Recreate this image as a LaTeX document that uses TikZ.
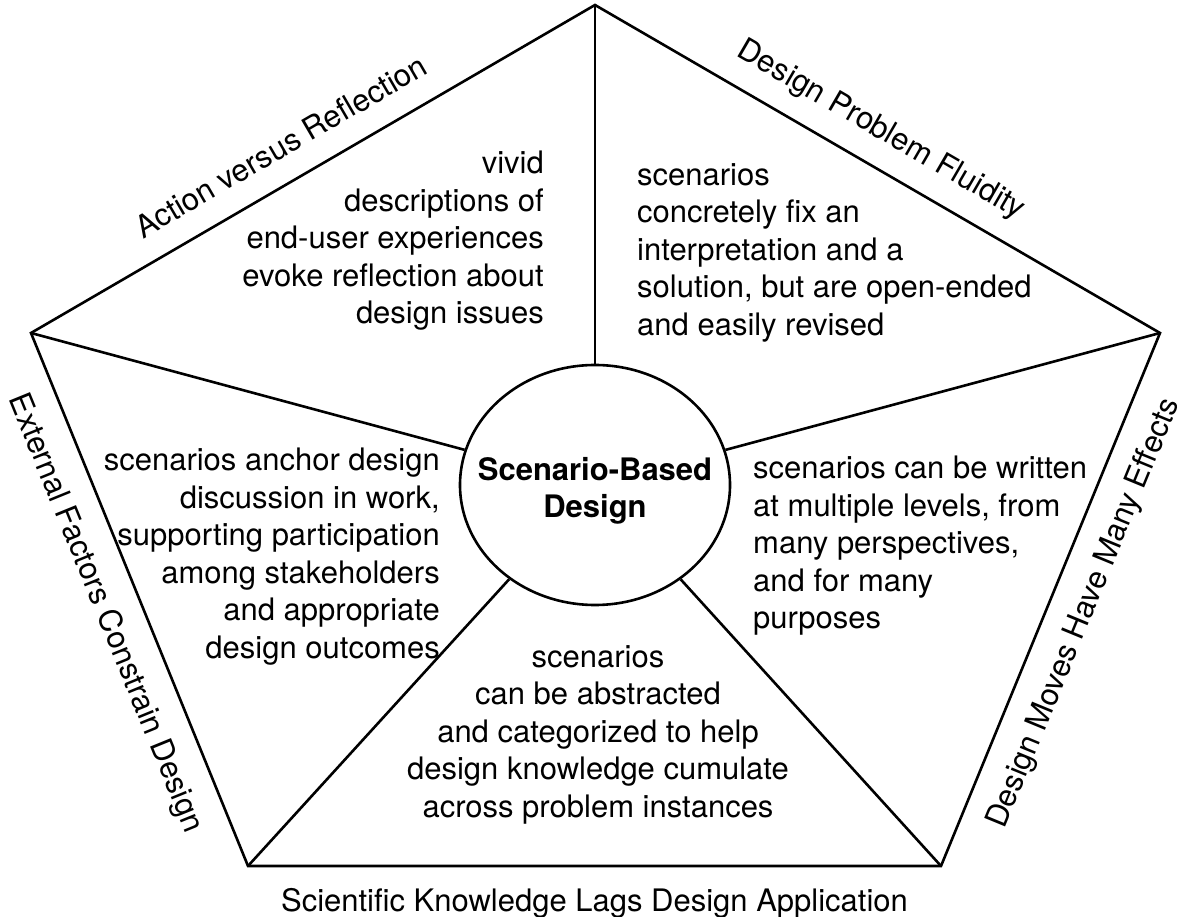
\documentclass[tikz,border=0pt]{standalone}
\usepackage{fontspec}
\setmainfont{TeX Gyre Heros}
\usetikzlibrary{shapes.geometric}

\begin{document}
\begin{tikzpicture}[x=1pt, y=1pt,
    outline/.style={draw=black, line width=2.6pt},
    hub/.style={ellipse, draw=black, line width=2.6pt, minimum width=270pt, minimum height=240pt, inner sep=0pt},
    hubtext/.style={inner sep=0pt, align=center, font=\fontsize{31}{37}\selectfont\bfseries},
    blurb/.style={inner sep=0pt, font=\fontsize{31}{37.5}\selectfont},
    sidelabel/.style={inner sep=0pt, sloped, font=\fontsize{31}{37.5}\selectfont}
    ]
        \useasboundingbox (0,0) rectangle (1185,916);

        %Corners
        \coordinate (vT)  at (595,911);
        \coordinate (vR)  at (1160,583);
        \coordinate (vBR) at (941,50);
        \coordinate (vBL) at (248,50);
        \coordinate (vL)  at (31,583);

        %Nodes
        \node[hub]
            (sbd)       at (595,431)    {};
        \node[hubtext]
            (sbdname)   at (595,425)    {Scenario-Based\\Design};
        \node[blurb, anchor=north east, align=right]
            (reflect)   at (544,765)    {vivid\\descriptions of\\end-user experiences\\evoke reflection about\\design issues};
        \node[blurb, anchor=north west, align=left]
            (fluid)     at (637,753)    {scenarios\\concretely fix an\\interpretation and a\\solution, but are open-ended\\and easily revised};
        \node[blurb, anchor=north east, align=right]
            (anchor)    at (440,468)    {scenarios anchor design\\discussion in work,\\supporting participation\\among stakeholders\\and appropriate\\design outcomes};
        \node[blurb, anchor=north west, align=left]
            (levels)    at (753,460)    {scenarios can be written\\at multiple levels, from\\many perspectives,\\and for many\\purposes};
        \node[blurb, anchor=north, align=center]
            (abstract)  at (598,271)    {scenarios\\can be abstracted\\and categorized to help\\design knowledge cumulate\\across problem instances};

        %Lines
        \draw[outline] (vL) -- (vT) -- (vR) -- (vBR) -- (vBL) -- cycle;
        \foreach \v in {vT,vR,vBR,vBL,vL}
            \draw[outline] (\v) -- (sbd);

        %Edge labels
        \path (vL) -- node[sidelabel, above=24pt, pos=0.475] {Action versus Reflection} (vT);
        \path (vT) -- node[sidelabel, above=20pt, pos=0.475] {Design Problem Fluidity} (vR);
        \path (vBR) -- node[sidelabel, below=22pt] {Design Moves Have Many Effects} (vR);
        \path (vL) -- node[sidelabel, below=22pt] {External Factors Constrain Design} (vBL);
        \path (vBL) -- node[sidelabel, below=22pt] {Scientific Knowledge Lags Design Application} (vBR);
    \end{tikzpicture}
\end{document}
